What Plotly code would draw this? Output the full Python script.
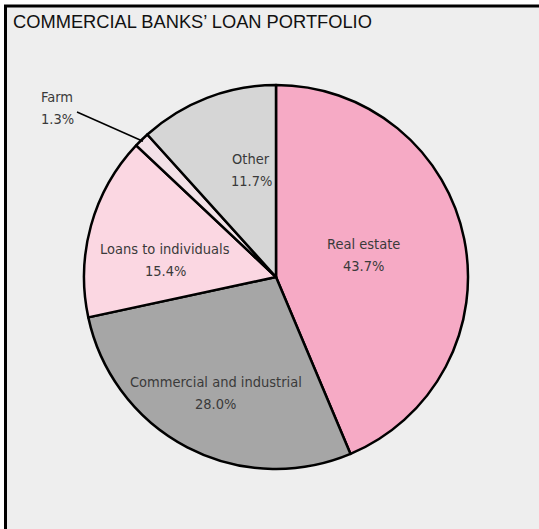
import math
import plotly.graph_objects as go

# Loan portfolio shares, in percent (clockwise from 12 o'clock)
categories = ["Real estate", "Commercial and industrial", "Loans to individuals", "Farm", "Other"]
shares = [43.7, 28.0, 15.4, 1.3, 11.7]
colors = ["#F6AAC5", "#A6A6A6", "#FBD7E2", "#F2E1E7", "#D6D6D6"]

# Radial placement of each inside label as a fraction of the radius
label_radius = [0.47, 0.68, 0.585, None, 0.57]
label_shift_deg = [-3, 0, -6.6, 0, 8]

W, H = 539, 529
CX, CY, R = 276, 277, 192  # pie centre and radius in pixels
LINE_GAP = 22              # spacing between the two label lines, pixels


def px(x):
    return x / W


def py(y):
    return 1 - y / H


def point(angle_deg, frac):
    a = math.radians(angle_deg)
    return CX + frac * R * math.sin(a), CY - frac * R * math.cos(a)


fig = go.Figure()
fig.add_trace(go.Pie(
    labels=categories,
    values=shares,
    sort=False,
    direction="clockwise",
    rotation=0,
    marker=dict(colors=colors, line=dict(color="#000000", width=2.5)),
    textinfo="none",
    hoverinfo="label+percent",
    showlegend=False,
    domain=dict(x=[px(CX - R), px(CX + R)], y=[py(CY + R), py(CY - R)]),
))

label_font = dict(family="Liberation Sans Narrow, Arial Narrow, DejaVu Sans Condensed, sans-serif",
                  size=14.5, color="#3A3A3A")


def two_line_label(x, y, top, bottom, anchor):
    align = "center" if anchor == "center" else "left"
    return [
        dict(x=px(x), y=py(y - LINE_GAP / 2), xref="paper", yref="paper", text=top,
             showarrow=False, font=label_font, align=align, xanchor=anchor, yanchor="middle"),
        dict(x=px(x), y=py(y + LINE_GAP / 2), xref="paper", yref="paper", text=bottom,
             showarrow=False, font=label_font, align=align, xanchor=anchor, yanchor="middle"),
    ]


total = sum(shares)
start = 0.0
annotations = []
shapes = [
    dict(type="rect", xref="paper", yref="paper",
         x0=px(5.5), x1=1.05, y0=-0.05, y1=py(6),
         fillcolor="#EEEEEE", line=dict(color="#000000", width=3), layer="below"),
]
for name, val, frac, shift in zip(categories, shares, label_radius, label_shift_deg):
    span = val / total * 360
    mid = start + span / 2
    pct = f"{val:.1f}%"
    if frac is not None:
        x, y = point(mid + shift, frac)
        annotations += two_line_label(x, y, name, pct, "center")
    else:
        # small slice: label outside with a leader line
        ex, ey = point(mid, 0.99)
        annotations += two_line_label(39, 108, name, pct, "left")
        shapes.append(dict(type="line", xref="paper", yref="paper",
                           x0=px(77), y0=py(112), x1=px(ex), y1=py(ey),
                           line=dict(color="#000000", width=1.5)))
    start += span

annotations.append(dict(x=px(11), y=py(21), xref="paper", yref="paper",
                        text="COMMERCIAL BANKS\u2019 LOAN PORTFOLIO", showarrow=False,
                        font=dict(family="Liberation Sans, Arial, sans-serif", size=18.3, color="#111111"),
                        xanchor="left", yanchor="middle"))

fig.update_layout(
    width=W, height=H,
    margin=dict(l=0, r=0, t=0, b=0),
    paper_bgcolor="#FFFFFF",
    plot_bgcolor="#FFFFFF",
    shapes=shapes,
    annotations=annotations,
)

fig.write_html("out.html")
